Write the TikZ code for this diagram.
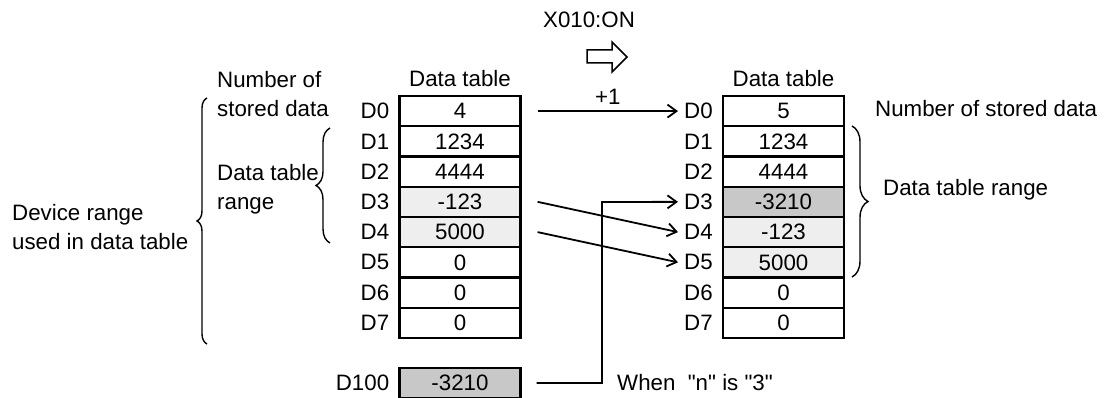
\documentclass[tikz,border=0pt]{standalone}
\usepackage{fontspec}
\setmainfont{Liberation Sans}
\usetikzlibrary{arrows.meta,positioning,decorations.pathreplacing}
\definecolor{lightcell}{RGB}{238,238,238}
\definecolor{darkcell}{RGB}{200,200,200}

\begin{document}
\begin{tikzpicture}[x=1pt,y=-1pt,
    font=\fontsize{22.3}{29}\selectfont,
    cell/.style={draw, line width=2.2pt, minimum width=121pt, minimum height=30.25pt, inner sep=0pt},
    lab/.style={inner sep=0pt},
    conn/.style={line width=1.8pt, -{Straight Barb[length=9pt,width=13pt,line width=1.8pt]}},
    curly/.style={line width=1.4pt, decorate, decoration={brace, amplitude=#1}}]
  \useasboundingbox (0,0) rectangle (1109,398);
  % Tabel kiri
  \foreach \v/\f [count=\i from 0] in {4/white,1234/white,4444/white,-123/lightcell,5000/lightcell,0/white,0/white,0/white}{
    \node[cell, fill=\f] (L\i) at (460,{111.1+30.25*\i}) {\v};
    \node[lab, left=9pt of L\i] (lD\i) {D\i};
  }
  \node[lab] (hL) at (460,79) {Data table};
  % Tabel kanan
  \foreach \v/\f [count=\i from 0] in {5/white,1234/white,4444/white,-3210/darkcell,-123/lightcell,5000/lightcell,0/white,0/white}{
    \node[cell, fill=\f] (R\i) at (783.5,{111.1+30.25*\i}) {\v};
    \node[lab, left=9pt of R\i] (rD\i) {D\i};
  }
  \node[lab] (hR) at (783.5,79) {Data table};
  % Data sumber
  \node[cell, fill=darkcell] (M) at (460,383) {-3210};
  \node[lab, left=9pt of M] (lM) {D100};
  % Keterangan kiri
  \node[lab, anchor=west, align=left] (nsd) at (217,94.5) {Number of\\stored data};
  \node[lab, anchor=west, align=left] (dtr) at (217,189) {Data table\\range};
  \node[lab, anchor=west, align=left] (dev) at (12,227.5) {Device range\\used in data table};
  \draw[curly=10pt] (207,344) -- (207,98);
  \draw[curly=14pt] (330,243) -- (330,128);
  % Keterangan kanan
  \node[lab, anchor=west] (nsdR) at (875,109) {Number of stored data};
  \node[lab, anchor=west] (dtrR) at (883,190) {Data table range};
  \draw[curly=16pt] (852,126) -- (852,277);
  % Kondisi
  \node[lab] (trig) at (589,20) {X010:ON};
  \draw[line width=1.5pt] (587,50) -- (612,50) -- (612,42) -- (627,57) -- (612,72) -- (612,63) -- (587,63) -- cycle;
  % Panah geser
  \draw[conn] ([xshift=16pt]L0.east) -- node[lab, midway, above=6pt] (inc) {+1} ([xshift=-6pt]rD0.west);
  \draw[conn] ([xshift=16pt]L3.east) -- ([xshift=-6pt]rD4.west);
  \draw[conn] ([xshift=16pt]L4.east) -- ([xshift=-6pt]rD5.west);
  \coordinate (bend) at (602,202);
  \draw[conn] ([xshift=15pt]M.east) -| (bend) -- ([xshift=-6pt]rD3.west);
  \node[lab, anchor=west] (when) at (617,383) {When~~\textquotedbl n\textquotedbl{} is \textquotedbl 3\textquotedbl};
\end{tikzpicture}
\end{document}
